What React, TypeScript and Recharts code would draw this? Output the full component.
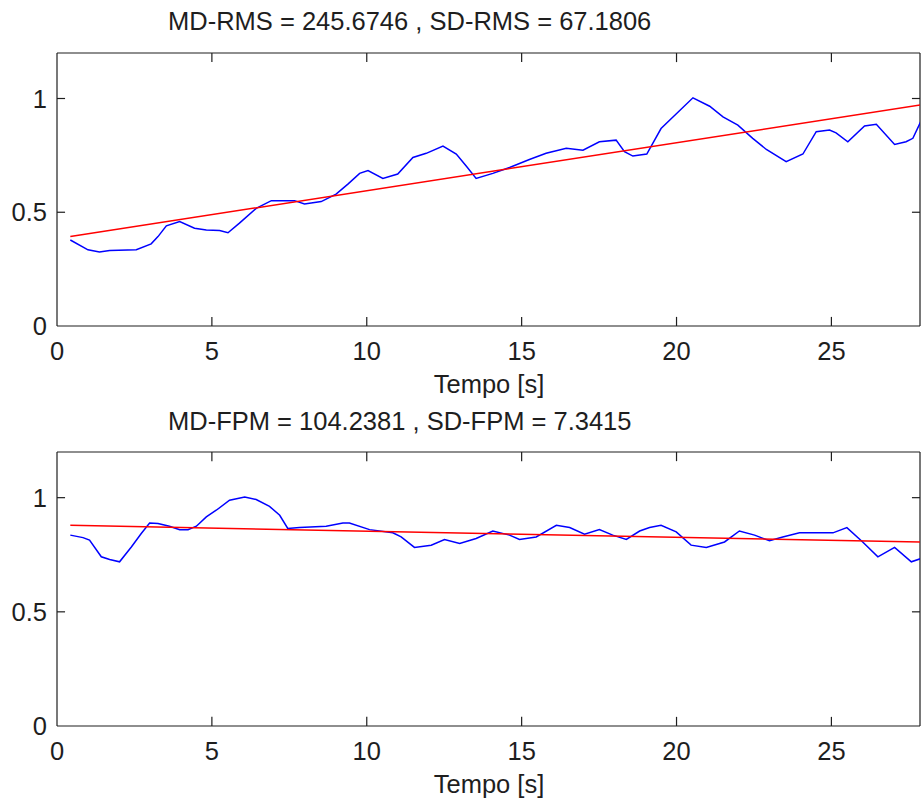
import { LineChart, Line, XAxis, YAxis, ReferenceLine } from 'recharts'

// shared axis setup (MATLAB-style boxed subplots)
const X_TICKS = [0, 5, 10, 15, 20, 25]
const Y_TICKS = [0, 0.5, 1]
const X_MAX = 27.86
const Y_MAX = 1.2

// top subplot: normalised RMS (blue) and its linear fit (red)
const rmsTime = [0.43, 1.0, 1.37, 1.7, 2.56, 3.04, 3.26, 3.53, 3.96, 4.44, 4.82, 5.25, 5.52, 5.89, 6.43, 6.92, 7.67, 7.99, 8.53, 9.01, 9.4, 9.77, 10.04, 10.52, 11.0, 11.49, 11.92, 12.46, 12.89, 13.21, 13.53, 14.07, 14.61, 15.25, 15.79, 16.44, 16.98, 17.51, 18.05, 18.32, 18.59, 19.04, 19.5, 20.53, 21.07, 21.5, 21.98, 22.46, 22.9, 23.54, 24.08, 24.51, 24.94, 25.15, 25.53, 26.07, 26.45, 27.04, 27.41, 27.63, 27.88, 28.1]
const rmsValue = [0.378, 0.335, 0.325, 0.332, 0.335, 0.361, 0.393, 0.44, 0.459, 0.43, 0.422, 0.42, 0.41, 0.452, 0.517, 0.551, 0.551, 0.536, 0.547, 0.58, 0.625, 0.671, 0.683, 0.649, 0.668, 0.741, 0.759, 0.791, 0.756, 0.703, 0.649, 0.671, 0.697, 0.732, 0.759, 0.781, 0.773, 0.81, 0.817, 0.766, 0.747, 0.756, 0.868, 1.003, 0.966, 0.919, 0.883, 0.825, 0.776, 0.722, 0.756, 0.854, 0.861, 0.849, 0.81, 0.879, 0.887, 0.798, 0.81, 0.825, 0.897, 0.95]
const rmsFitTime = [0.43, 28.1]
const rmsFitValue = [0.393, 0.976]

// bottom subplot: normalised FPM (blue) and its linear fit (red)
const fpmTime = [0.43, 0.84, 1.05, 1.43, 1.7, 2.02, 2.4, 2.72, 2.99, 3.26, 3.63, 3.96, 4.23, 4.5, 4.82, 5.14, 5.57, 6.06, 6.43, 6.86, 7.19, 7.45, 7.83, 8.69, 9.23, 9.44, 10.09, 10.84, 11.11, 11.54, 12.08, 12.51, 13.0, 13.53, 14.07, 14.61, 14.93, 15.47, 16.12, 16.55, 17.03, 17.51, 17.94, 18.38, 18.81, 19.13, 19.5, 19.99, 20.47, 20.96, 21.55, 22.03, 22.52, 23.0, 23.43, 23.97, 25.05, 25.5, 26.01, 26.5, 27.04, 27.58, 27.88, 28.1]
const fpmValue = [0.836, 0.825, 0.814, 0.741, 0.729, 0.719, 0.784, 0.843, 0.889, 0.887, 0.875, 0.86, 0.86, 0.875, 0.916, 0.945, 0.989, 1.003, 0.992, 0.962, 0.923, 0.865, 0.869, 0.875, 0.889, 0.889, 0.86, 0.846, 0.828, 0.782, 0.792, 0.817, 0.799, 0.821, 0.854, 0.836, 0.817, 0.828, 0.879, 0.869, 0.84, 0.86, 0.836, 0.817, 0.854, 0.869, 0.879, 0.85, 0.792, 0.782, 0.806, 0.854, 0.836, 0.811, 0.828, 0.846, 0.846, 0.869, 0.806, 0.741, 0.782, 0.719, 0.733, 0.75]
const fpmFitTime = [0.43, 28.1]
const fpmFitValue = [0.879, 0.805]

const FONT = "'Liberation Sans', Arial, Helvetica, sans-serif"
const INK = '#1e1e1e'
const TICK_X = 0.26
const TICK_Y = 0.04

const toSeries = (ts: number[], vs: number[]) => ts.map((t, i) => ({ t, v: vs[i] }))

function XTick({ x, y, payload }: any) {
    return (
        <text x={x} y={y + 34} textAnchor="middle" style={{ fill: INK, fontSize: 25.5, fontFamily: FONT }}>
            {payload.value}
        </text>
    )
}

function YTick({ x, y, payload }: any) {
    return (
        <text x={x - 10} y={y + 9} textAnchor="end" style={{ fill: INK, fontSize: 25.5, fontFamily: FONT }}>
            {payload.value}
        </text>
    )
}

function frame() {
    const lines = [
        <ReferenceLine key="top" y={Y_MAX} stroke={INK} strokeWidth={1.2} />,
        <ReferenceLine key="right" x={X_MAX} stroke={INK} strokeWidth={1.2} />,
    ]
    X_TICKS.filter((t) => t > 0).forEach((t) => {
        lines.push(<ReferenceLine key={'xb' + t} segment={[{ x: t, y: 0 }, { x: t, y: TICK_Y }]} stroke={INK} strokeWidth={1.2} />)
        lines.push(<ReferenceLine key={'xt' + t} segment={[{ x: t, y: Y_MAX }, { x: t, y: Y_MAX - TICK_Y }]} stroke={INK} strokeWidth={1.2} />)
    })
    Y_TICKS.filter((t) => t > 0).forEach((t) => {
        lines.push(<ReferenceLine key={'yl' + t} segment={[{ x: 0, y: t }, { x: TICK_X, y: t }]} stroke={INK} strokeWidth={1.2} />)
        lines.push(<ReferenceLine key={'yr' + t} segment={[{ x: X_MAX, y: t }, { x: X_MAX - TICK_X, y: t }]} stroke={INK} strokeWidth={1.2} />)
    })
    return lines
}

function Subplot({ title, height, top, xHeight, signal, fit }: any) {
    return (
        <LineChart width={921} height={height} margin={{ top, right: 1, bottom: 0, left: 0 }}>
            <XAxis
                type="number"
                dataKey="t"
                domain={[0, X_MAX]}
                ticks={X_TICKS}
                allowDataOverflow
                height={xHeight}
                tickSize={0}
                tickMargin={0}
                tickLine={false}
                tick={<XTick />}
                axisLine={{ stroke: INK, strokeWidth: 1.2 }}
                interval={0}
            />
            <YAxis
                type="number"
                domain={[0, Y_MAX]}
                ticks={Y_TICKS}
                allowDataOverflow
                width={57}
                tickSize={0}
                tickMargin={0}
                tickLine={false}
                tick={<YTick />}
                axisLine={{ stroke: INK, strokeWidth: 1.2 }}
                interval={0}
            />
            {frame()}
            <Line data={signal} dataKey="v" type="linear" stroke="#0000ff" strokeWidth={1.5} dot={false} isAnimationActive={false} />
            <Line data={fit} dataKey="v" type="linear" stroke="#ff0000" strokeWidth={1.5} dot={false} isAnimationActive={false} />
            <text x={168} y={30} style={{ fill: INK, fontSize: 25.5, fontFamily: FONT }}>{title}</text>
            <text x={489} y={393} textAnchor="middle" style={{ fill: INK, fontSize: 25.5, fontFamily: FONT }}>Tempo [s]</text>
        </LineChart>
    )
}

export default function App() {
    return (
        <div style={{ position: 'absolute', left: 0, top: 0, width: 921, height: 801, background: '#fff' }}>
            <Subplot
                title="MD-RMS = 245.6746 , SD-RMS = 67.1806"
                height={400}
                top={53}
                xHeight={74}
                signal={toSeries(rmsTime, rmsValue)}
                fit={toSeries(rmsFitTime, rmsFitValue)}
            />
            <Subplot
                title="MD-FPM = 104.2381 , SD-FPM = 7.3415"
                height={401}
                top={52}
                xHeight={75}
                signal={toSeries(fpmTime, fpmValue)}
                fit={toSeries(fpmFitTime, fpmFitValue)}
            />
        </div>
    )
}
